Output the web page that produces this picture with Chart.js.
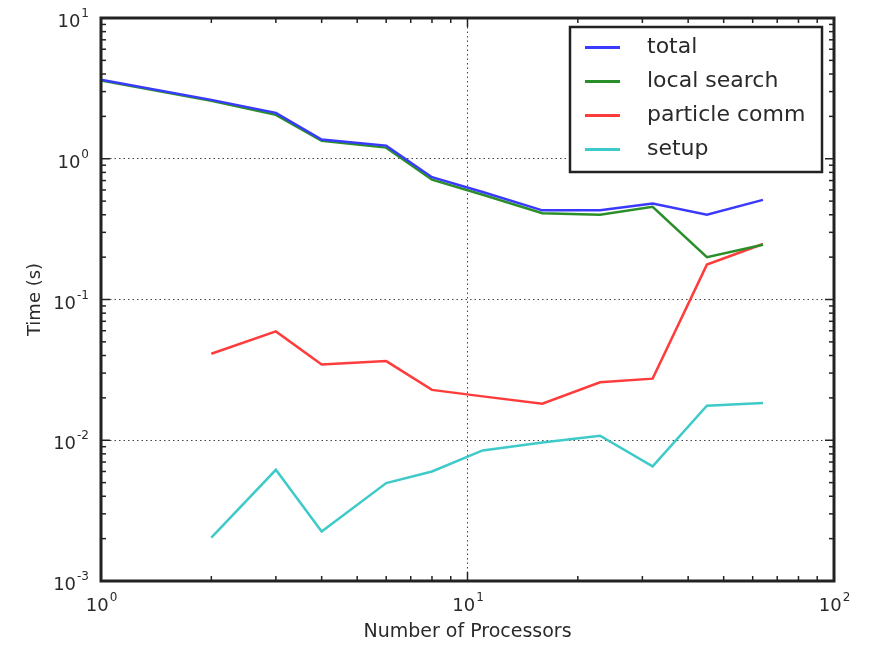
<!DOCTYPE html>
<html>
<head>
<meta charset="utf-8">
<script src="https://cdn.jsdelivr.net/npm/chart.js@4.4.0/dist/chart.umd.min.js"></script>
<style>
  html, body { margin: 0; padding: 0; background: #fff; }
</style>
</head>
<body>
<canvas id="timingChart" width="882" height="646"></canvas>
<script>
// values (log-log)
const procs = [1, 2, 3, 4, 6, 8, 11, 16, 23, 32, 45, 64];
const totalTime = [3.65, 2.62, 2.12, 1.37, 1.24, 0.74, 0.58, 0.43, 0.43, 0.48, 0.40, 0.51];
const localSearch = [3.6, 2.58, 2.05, 1.34, 1.2, 0.71, 0.555, 0.41, 0.40, 0.455, 0.20, 0.245];
const particleComm = [null, 0.0412, 0.0593, 0.0345, 0.0365, 0.0228, 0.0205, 0.0182, 0.0258, 0.0274, 0.177, 0.248];
const setupTime = [null, 0.00203, 0.00617, 0.00225, 0.00496, 0.0060, 0.00847, 0.00964, 0.01076, 0.00652, 0.0176, 0.0184];

const seriesNames = ["total", "local search", "particle comm", "setup"];
const seriesColors = ["#3a3aff", "#2a8f2a", "#ff3c3c", "#3fcaca"];
const xDecades = [1, 10, 100];
const yDecades = [0.001, 0.01, 0.1, 1, 10];
const xTitle = "Number of Processors";
const yTitle = "Time (s)";

const FONT = "'DejaVu Sans', sans-serif";
const TEXT = "#2a2a2a";

function isMajor(v) {
  const l = Math.log10(v);
  return Math.abs(l - Math.round(l)) < 1e-9;
}

function minorValues(decades) {
  const out = [];
  for (let i = 0; i < decades.length - 1; i++) {
    for (let k = 2; k <= 9; k++) out.push(k * decades[i]);
  }
  return out;
}

// "10" with a raised exponent
function drawPow(ctx, dec, x, y, align) {
  const exp = String(Math.round(Math.log10(dec)));
  ctx.font = "18px " + FONT;
  const wBase = ctx.measureText("10").width;
  ctx.font = "12px " + FONT;
  const wExp = ctx.measureText(exp).width;
  let left = align === "right" ? x - wBase - wExp : x - (wBase + wExp) / 2;
  ctx.textAlign = "left";
  ctx.textBaseline = "alphabetic";
  ctx.font = "18px " + FONT;
  ctx.fillText("10", left, y + 7);
  ctx.font = "12px " + FONT;
  ctx.fillText(exp, left + wBase + 1, y - 3);
}

const framePlugin = {
  id: "frame",
  afterDraw(chart) {
    const { ctx, chartArea: a, scales } = chart;
    const xs = scales.x, ys = scales.y;
    ctx.save();
    ctx.strokeStyle = "#222";
    ctx.fillStyle = TEXT;

    const seg = (x1, y1, x2, y2) => {
      ctx.beginPath(); ctx.moveTo(x1, y1); ctx.lineTo(x2, y2); ctx.stroke();
    };

    // inside ticks on all four sides
    ctx.lineWidth = 1.5;
    xDecades.concat(minorValues(xDecades)).forEach(v => {
      const px = xs.getPixelForValue(v);
      const len = isMajor(v) ? 9 : 5;
      seg(px, a.bottom, px, a.bottom - len);
      seg(px, a.top, px, a.top + len);
    });
    yDecades.concat(minorValues(yDecades)).forEach(v => {
      const py = ys.getPixelForValue(v);
      const len = isMajor(v) ? 9 : 5;
      seg(a.left, py, a.left + len, py);
      seg(a.right, py, a.right - len, py);
    });

    ctx.lineWidth = 3;
    ctx.strokeRect(a.left, a.top, a.right - a.left, a.bottom - a.top);

    // tick labels
    xDecades.forEach(d => drawPow(ctx, d, xs.getPixelForValue(d), 604, "center"));
    yDecades.forEach(d => drawPow(ctx, d, 88, ys.getPixelForValue(d) + 2, "right"));

    // axis titles
    ctx.font = "19px " + FONT;
    ctx.textAlign = "center";
    ctx.textBaseline = "middle";
    ctx.fillText(xTitle, (a.left + a.right) / 2, 632);
    ctx.save();
    ctx.translate(35, (a.top + a.bottom) / 2);
    ctx.rotate(-Math.PI / 2);
    ctx.font = "18px " + FONT;
    ctx.fillText(yTitle, 0, 0);
    ctx.restore();

    // legend box
    ctx.fillStyle = "#fff";
    ctx.fillRect(570, 27, 252, 145);
    ctx.lineWidth = 2.5;
    ctx.strokeRect(570, 27, 252, 145);
    chart.data.datasets.forEach((ds, i) => {
      const ly = 47.5 + i * 34;
      ctx.strokeStyle = ds.borderColor;
      ctx.lineWidth = 3;
      seg(585, ly, 620, ly);
      ctx.fillStyle = TEXT;
      ctx.font = "22px " + FONT;
      ctx.textAlign = "left";
      ctx.textBaseline = "middle";
      ctx.fillText(ds.label, 647, ly);
    });
    ctx.restore();
  }
};

const gridColor = c => {
  const v = c.tick && c.tick.value;
  return v && isMajor(v) ? "#444" : "rgba(0,0,0,0)";
};

const seriesData = [totalTime, localSearch, particleComm, setupTime];

new Chart(document.getElementById("timingChart"), {
  type: "line",
  data: {
    datasets: seriesData.map((vals, i) => ({
      label: seriesNames[i],
      data: procs.map((p, j) => ({ x: p, y: vals[j] })),
      borderColor: seriesColors[i],
      borderWidth: 2.5,
      pointRadius: 0,
      fill: false,
      tension: 0
    }))
  },
  options: {
    responsive: false,
    animation: false,
    devicePixelRatio: 1,
    layout: { padding: { top: 18, right: 48, left: 0, bottom: 0 } },
    plugins: { legend: { display: false }, tooltip: { enabled: false } },
    scales: {
      x: {
        type: "logarithmic",
        min: 1,
        max: 100,
        ticks: { display: false },
        grid: { color: gridColor, lineWidth: 1, drawTicks: false },
        border: { display: false, dash: [1.5, 3] },
        afterFit: s => { s.height = 65; }
      },
      y: {
        type: "logarithmic",
        min: 0.001,
        max: 10,
        ticks: { display: false },
        grid: { color: gridColor, lineWidth: 1, drawTicks: false },
        border: { display: false, dash: [1.5, 3] },
        afterFit: s => { s.width = 101; }
      }
    }
  },
  plugins: [framePlugin]
});
</script>
</body>
</html>
